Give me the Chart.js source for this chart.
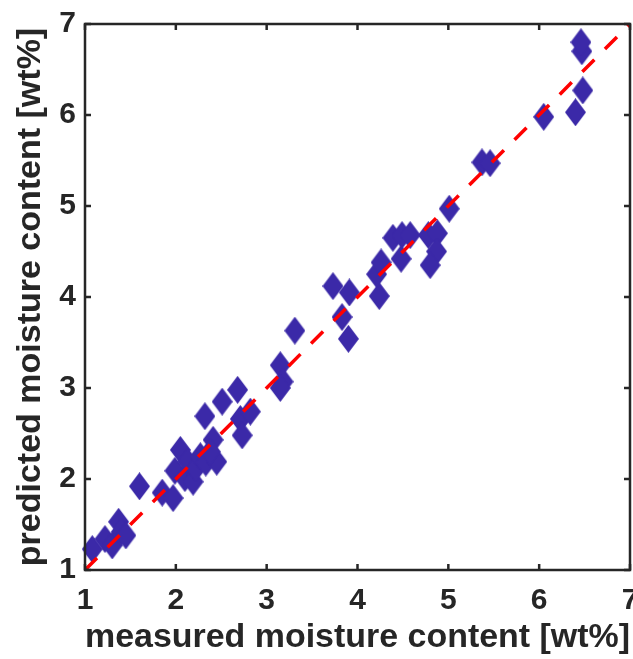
<!DOCTYPE html>
<html><head><meta charset="utf-8">
<script src="https://cdn.jsdelivr.net/npm/chart.js@4.4.0/dist/chart.umd.min.js"></script>
<style>html,body{margin:0;padding:0;background:#fff}#wrap{width:633px;height:659px}</style>
</head><body><div id="wrap"><canvas id="c" width="633" height="659"></canvas></div>
<script>
// Data
const measured  = [1.08,1.22,1.30,1.37,1.40,1.45,1.60,1.85,1.97,
                   1.99,2.05,2.10,2.13,2.19,2.22,2.27,2.33,2.41,2.45,2.38,
                   2.32,2.51,2.68,2.71,2.73,2.82,
                   3.15,3.18,3.15,3.31,
                   3.73,3.91,3.83,3.90,
                   4.24,4.21,4.26,4.39,4.49,4.58,4.48,4.78,4.88,4.87,4.80,5.01,
                   5.37,5.46,6.05,6.40,6.48,6.47,6.46];
const predicted = [1.23,1.34,1.27,1.53,1.42,1.38,1.92,1.85,1.79,
                   2.09,2.32,2.01,2.19,1.97,2.12,2.25,2.18,2.43,2.19,2.30,
                   2.69,2.85,2.98,2.66,2.48,2.74,
                   3.25,3.07,3.00,3.63,
                   4.12,4.05,3.78,3.54,
                   4.01,4.25,4.38,4.65,4.68,4.68,4.42,4.68,4.70,4.50,4.35,4.97,
                   5.48,5.47,5.98,6.03,6.27,6.70,6.80];
const refLineX = [1, 7];
const refLineY = [1, 7];
const tickValues = [1, 2, 3, 4, 5, 6, 7];
const xTitle = 'measured moisture content [wt%]';
const yTitle = 'predicted moisture content [wt%]';

const FONT = '"Liberation Sans", Arial, Helvetica, sans-serif';
const AXIS_COLOR = '#262626';
const MARKER_COLOR = '#3B29A8';

// Diamond marker (taller than wide, like MATLAB 'd')
const dia = document.createElement('canvas');
dia.width = 21; dia.height = 28;
(function(){
  const g = dia.getContext('2d');
  g.fillStyle = MARKER_COLOR;
  g.beginPath();
  g.moveTo(dia.width/2, 0);
  g.lineTo(dia.width, dia.height/2);
  g.lineTo(dia.width/2, dia.height);
  g.lineTo(0, dia.height/2);
  g.closePath();
  g.fill();
})();

const scatterData = measured.map((x, i) => ({x: x, y: predicted[i]}));
const lineData = refLineX.map((x, i) => ({x: x, y: refLineY[i]}));

const boxPlugin = {
  id: 'box',
  afterDatasetsDraw(chart) {
    const {ctx, chartArea: a, scales: {x, y}} = chart;
    ctx.save();
    ctx.strokeStyle = AXIS_COLOR;
    ctx.lineWidth = 2.5;
    const L = 6;
    ctx.beginPath();
    tickValues.forEach(v => {
      const px = x.getPixelForValue(v);
      ctx.moveTo(px, a.bottom); ctx.lineTo(px, a.bottom - L);
      ctx.moveTo(px, a.top); ctx.lineTo(px, a.top + L);
      const py = y.getPixelForValue(v);
      ctx.moveTo(a.left, py); ctx.lineTo(a.left + L, py);
      ctx.moveTo(a.right, py); ctx.lineTo(a.right - L, py);
    });
    ctx.stroke();
    ctx.strokeRect(a.left, a.top, a.right - a.left, a.bottom - a.top);
    ctx.restore();
  }
};

new Chart(document.getElementById('c'), {
  type: 'scatter',
  data: {
    datasets: [
      {
        type: 'line',
        data: lineData,
        borderColor: '#FF0000',
        borderWidth: 3.5,
        borderDash: [17, 15],
        pointRadius: 0,
        fill: false,
        order: 0
      },
      {
        type: 'scatter',
        data: scatterData,
        pointStyle: dia,
        pointRadius: 12,
        clip: false,
        order: 1
      }
    ]
  },
  options: {
    responsive: false,
    animation: false,
    devicePixelRatio: 1,
    layout: {autoPadding: false, padding: {top: 24, right: 3, left: 0, bottom: 0}},
    plugins: {legend: {display: false}, tooltip: {enabled: false}},
    scales: {
      x: {
        type: 'linear', min: 1, max: 7,
        afterFit(s) { s.height = 89; s.paddingLeft = 0; s.paddingRight = 0; },
        afterBuildTicks(s) { s.ticks = tickValues.map(v => ({value: v})); },
        grid: {display: false, drawTicks: false},
        border: {display: false},
        ticks: {color: AXIS_COLOR, padding: 16, maxRotation: 0,
                font: {family: FONT, size: 30, weight: 'bold', lineHeight: 1}},
        title: {display: true, text: xTitle, color: AXIS_COLOR,
                padding: {top: 0, bottom: 4},
                font: {family: FONT, size: 34, weight: 'bold', lineHeight: 1}}
      },
      y: {
        type: 'linear', min: 1, max: 7,
        afterFit(s) { s.width = 85; s.paddingTop = 0; s.paddingBottom = 0; },
        afterBuildTicks(s) { s.ticks = tickValues.map(v => ({value: v})); },
        grid: {display: false, drawTicks: false},
        border: {display: false},
        ticks: {color: AXIS_COLOR, padding: 9,
                font: {family: FONT, size: 30, weight: 'bold', lineHeight: 1}},
        title: {display: true, text: yTitle, color: AXIS_COLOR,
                padding: {top: 14, bottom: 0},
                font: {family: FONT, size: 34, weight: 'bold', lineHeight: 1}}
      }
    }
  },
  plugins: [boxPlugin]
});
</script>
</body></html>
